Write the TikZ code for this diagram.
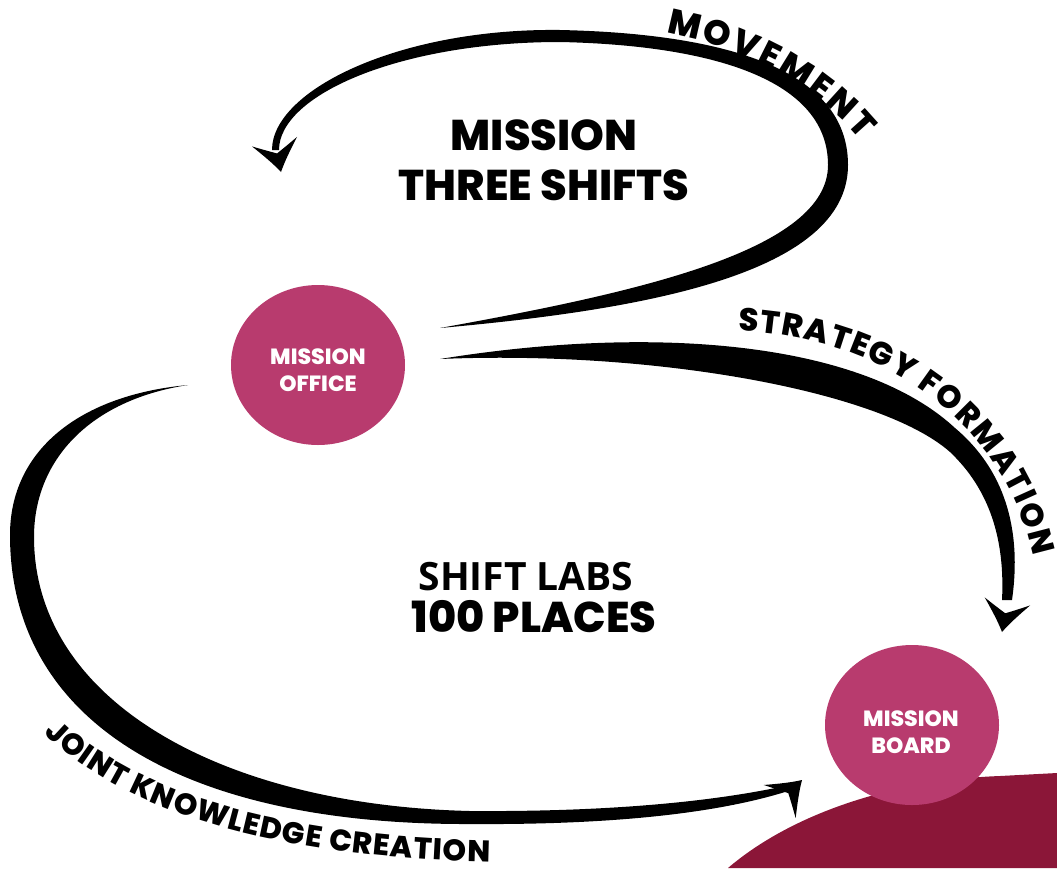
\documentclass[tikz,border=0pt]{standalone}
\usepackage{fontspec}
\setmainfont{Poppins}[BoldFont={Poppins ExtraBold}]
\newfontfamily\labsfont{Open Sans}
\usepackage{tikz}
\usetikzlibrary{calc}
\usetikzlibrary{positioning}
\usetikzlibrary{shapes.geometric}
\usetikzlibrary{decorations.text}
\definecolor{raspberry}{RGB}{184, 59, 110}
\definecolor{claret}{RGB}{139, 22, 56}

\tikzset{
  swish/.pic={
    \fill (  0,  0) .. controls (-10, -6) and (-20,-14) .. (-31,-23)
                    .. controls (-24,-10) and (-21, -4) .. (-19,  0)
                    .. controls (-21,  4) and (-24, 10) .. (-31, 23)
                    .. controls (-20, 14) and (-10,  6) .. (  0,  0) -- cycle;
  }
}

\begin{document}
\begin{tikzpicture}[x=1pt, y=-1pt,
    hub/.style={ellipse, fill=raspberry, minimum width=174pt, minimum height=160pt, inner sep=0pt},
    hubtext/.style={text=white, align=center, font=\fontsize{22}{27}\selectfont\bfseries},
    heading/.style={anchor=base, font=\fontsize{43}{43}\selectfont\bfseries},
    labsline/.style={anchor=base, font=\labsfont\fontsize{39}{39}\selectfont\bfseries},
    arctext/.style={decorate, decoration={text along path, text align={fit to path}, text={#1}}}]
    \useasboundingbox (0,0) rectangle (1057,868);
    % Corner wave
    \fill[claret] (728,868) .. controls (790,815) and (890,780) .. (1000,776) -- (1057,773) -- (1057,868) -- cycle;
    % Movement loop
    \fill (440,328) .. controls (640,310) and (848,275) .. (848,165)
                    .. controls (848, 60) and (700, 33) .. (560, 30)
                    .. controls (400, 28) and (272, 90) .. (272,150)
                    -- (279,150)
                    .. controls (279, 95) and (400, 42) .. (560, 42)
                    .. controls (700, 45) and (828, 75) .. (828,165)
                    .. controls (828,250) and (640,292) .. (440,328) -- cycle;
    \pic[rotate=-78] at (281,172) {swish};
    % Strategy formation
    \fill (440,359) .. controls (650,325) and (860,340) .. (955,428)
                    .. controls (1005,470) and (1022,530) .. (1012,600)
                    -- (1002,600)
                    .. controls (1005,540) and (990,490) .. (950,452)
                    .. controls (880,390) and (650,350) .. (440,359) -- cycle;
    \pic[rotate=-100] at (1002,632) {swish};
    % Joint knowledge creation
    \fill (188,385) .. controls ( 80,395) and ( 10,450) .. ( 10,535)
                    .. controls ( 10,720) and (180,825) .. (470,824)
                    .. controls (620,825) and (720,812) .. (785,792)
                    -- (785,786)
                    .. controls (720,800) and (620,812) .. (470,811)
                    .. controls (220,805) and ( 34,700) .. ( 34,537)
                    .. controls ( 34,460) and ( 90,400) .. (188,385) -- cycle;
    \pic[rotate=44] at (802,780) {swish};
    % Circles
    \node[hub] (office) at (318,365) {};
    \node[hubtext] (officetext) at (318,370) {MISSION\\OFFICE};
    \node[hub] (board) at (912,725) {};
    \node[hubtext] (boardtext) at (911,732) {MISSION\\BOARD};
    % Headings
    \node[heading] (mission) at (544,150) {MISSION};
    \node[heading] (shifts)  at (544,200) {THREE SHIFTS};
    \node[labsline] (labs)   at (526,590) {SHIFT LABS};
    \node[heading] (places)  at (534,632) {100 PLACES};
    % Arc labels
    \path[arctext={|\fontsize{35}{35}\selectfont\bfseries|MOVEMENT}]
        (666, 33) .. controls (740, 47) and (812, 82) .. (860,140);
    \path[arctext={|\fontsize{32}{32}\selectfont\bfseries|STRATEGY FORMATION}]
        (738,331) .. controls (880,336) and (1004,420) .. (1033,556);
    \path[arctext={|\fontsize{30}{30}\selectfont\bfseries|JOINT KNOWLEDGE CREATION}]
        ( 44,733) .. controls (130,818) and (290,858) .. (490,862);
\end{tikzpicture}
\end{document}
